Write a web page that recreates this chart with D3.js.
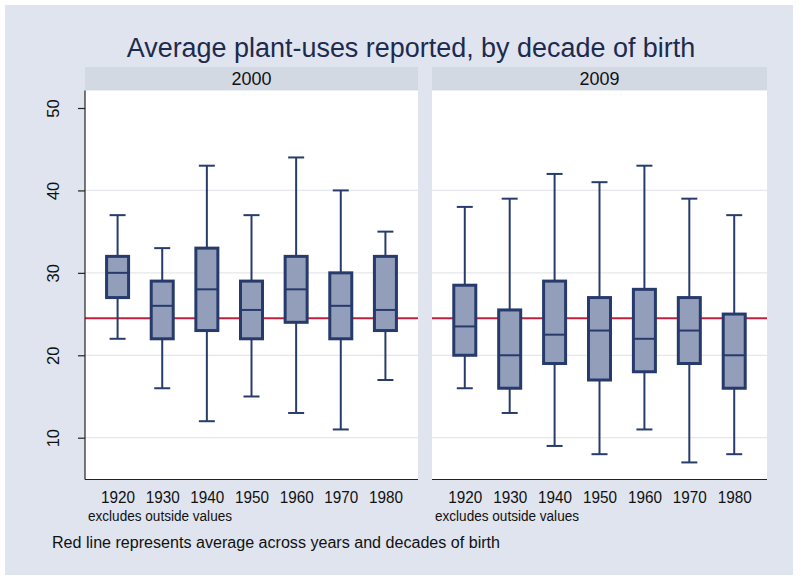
<!DOCTYPE html>
<html><head><meta charset="utf-8">
<script src="https://cdn.jsdelivr.net/npm/d3@7"></script>
<style>body{margin:0;background:#fff}svg{display:block}text{font-family:"Liberation Sans",Arial,sans-serif}</style>
</head><body>
<svg id="c" width="800" height="581"></svg>
<script>
const decades = ["1920","1930","1940","1950","1960","1970","1980"];
const panels = ["2000","2009"];
// per panel: [whiskerLow, q1, median, q3, whiskerHigh]
const low2000 = [22,16,12,15,13,11,17];
const q1_2000 = [27,22,23,22,24,22,23];
const med2000 = [30,26,28,25.5,28,26,25.5];
const q3_2000 = [32,29,33,29,32,30,32];
const high2000 = [37,33,43,37,44,40,35];
const low2009 = [16,13,9,8,11,7,8];
const q1_2009 = [20,16,19,17,18,19,16];
const med2009 = [23.5,20,22.5,23,22,23,20];
const q3_2009 = [28.5,25.5,29,27,28,27,25];
const high2009 = [38,39,42,41,43,39,37];
const overallMean = 24.5;
const yTicks = [10,20,30,40,50];
const gridTicks = [10,20,30,40];

const series = {
  "2000": decades.map((d,i)=>({d,lo:low2000[i],q1:q1_2000[i],med:med2000[i],q3:q3_2000[i],hi:high2000[i]})),
  "2009": decades.map((d,i)=>({d,lo:low2009[i],q1:q1_2009[i],med:med2009[i],q3:q3_2009[i],hi:high2009[i]}))
};

const svg = d3.select("#c");
svg.append("rect").attr("x",5).attr("y",5).attr("width",788).attr("height",570).attr("fill","#dfe4ee");

const title = svg.append("text").attr("x",411).attr("y",57).attr("text-anchor","middle")
  .attr("font-size",32).attr("fill","#1e2a4e")
  .style("font-family","'Liberation Sans Narrow','Arial Narrow','Liberation Sans',sans-serif")
  .text("Average plant-uses reported, by decade of birth");
// fit the title to the reference width if the font is wider than expected
const tw = title.node().getComputedTextLength();
if (tw > 575) title.attr("font-size", 32*569/tw);

const y = d3.scaleLinear().domain([10,50]).range([437.7,108]);
const plotTop = 90.5, plotBottom = 479.5;
const panelX = {"2000":[85,418],"2009":[432,767]};

panels.forEach((p,pi)=>{
  const [x0,x1] = panelX[p];
  const g = svg.append("g");
  g.append("rect").attr("x",x0).attr("y",67).attr("width",x1-x0).attr("height",plotTop-67).attr("fill","#d3d9e3");
  g.append("text").attr("x",(x0+x1)/2).attr("y",85).attr("text-anchor","middle").attr("font-size",18.5)
    .attr("textLength",40).attr("lengthAdjust","spacingAndGlyphs").attr("fill","#111").text(p);
  g.append("rect").attr("x",x0).attr("y",plotTop).attr("width",x1-x0).attr("height",plotBottom-plotTop).attr("fill","#fff");
  g.selectAll("line.grid").data(gridTicks).join("line").attr("class","grid")
    .attr("x1",x0).attr("x2",x1).attr("y1",d=>y(d)).attr("y2",d=>y(d))
    .attr("stroke","#e4e7ed").attr("stroke-width",1.2);
  const x = d3.scalePoint().domain(decades).range([x0,x1]).padding(0.73);
  g.append("line").attr("x1",x0).attr("x2",x1).attr("y1",y(overallMean)).attr("y2",y(overallMean))
    .attr("stroke","#c4203e").attr("stroke-width",2);
  const bw = 22, cw = 16;
  const b = g.selectAll("g.box").data(series[p]).join("g").attr("class","box");
  b.append("line").attr("x1",d=>x(d.d)).attr("x2",d=>x(d.d)).attr("y1",d=>y(d.hi)).attr("y2",d=>y(d.q3)).attr("stroke","#283c6c").attr("stroke-width",2);
  b.append("line").attr("x1",d=>x(d.d)).attr("x2",d=>x(d.d)).attr("y1",d=>y(d.q1)).attr("y2",d=>y(d.lo)).attr("stroke","#283c6c").attr("stroke-width",2);
  b.append("line").attr("x1",d=>x(d.d)-cw/2).attr("x2",d=>x(d.d)+cw/2).attr("y1",d=>y(d.hi)).attr("y2",d=>y(d.hi)).attr("stroke","#283c6c").attr("stroke-width",2);
  b.append("line").attr("x1",d=>x(d.d)-cw/2).attr("x2",d=>x(d.d)+cw/2).attr("y1",d=>y(d.lo)).attr("y2",d=>y(d.lo)).attr("stroke","#283c6c").attr("stroke-width",2);
  b.append("rect").attr("x",d=>x(d.d)-bw/2).attr("width",bw).attr("y",d=>y(d.q3)).attr("height",d=>y(d.q1)-y(d.q3))
    .attr("fill","#939ebb").attr("stroke","#263a6b").attr("stroke-width",3);
  b.append("line").attr("x1",d=>x(d.d)-bw/2).attr("x2",d=>x(d.d)+bw/2).attr("y1",d=>y(d.med)).attr("y2",d=>y(d.med)).attr("stroke","#263a6b").attr("stroke-width",2);
  const xa = g.append("g").attr("transform",`translate(0,${plotBottom})`).call(d3.axisBottom(x).tickSize(0).tickPadding(12));
  xa.select(".domain").attr("stroke","#222").attr("stroke-width",1.2).attr("d",`M${x0},0H${x1}`);
  xa.selectAll("text").attr("font-size",16.5).attr("fill","#111")
    .attr("textLength",34).attr("lengthAdjust","spacingAndGlyphs")
    .style("font-family","'Liberation Sans',Arial,sans-serif");
  g.append("text").attr("x",x0+3).attr("y",521).attr("font-size",14).attr("fill","#111")
    .attr("textLength",144).attr("lengthAdjust","spacingAndGlyphs").text("excludes outside values");
  if(pi===0){
    const ya = g.append("g").attr("transform",`translate(${x0},0)`).call(d3.axisLeft(y).tickValues(yTicks).tickSize(7).tickPadding(0));
    ya.select(".domain").attr("stroke","#222").attr("stroke-width",1.2).attr("d",`M0,${plotTop}V${plotBottom}`);
    ya.selectAll(".tick line").attr("stroke","#222").attr("stroke-width",1.2);
    ya.selectAll("text").attr("font-size",16.5).attr("fill","#111")
      .style("font-family","'Liberation Sans',Arial,sans-serif")
      .attr("text-anchor","middle").attr("x",null).attr("dy",null)
      .attr("transform","translate(-32,0) rotate(-90)").attr("dy","0.35em");
  }
});

svg.append("text").attr("x",52).attr("y",548).attr("font-size",16).attr("fill","#111")
  .attr("textLength",448).attr("lengthAdjust","spacingAndGlyphs")
  .text("Red line represents average across years and decades of birth");
</script>
</body></html>
